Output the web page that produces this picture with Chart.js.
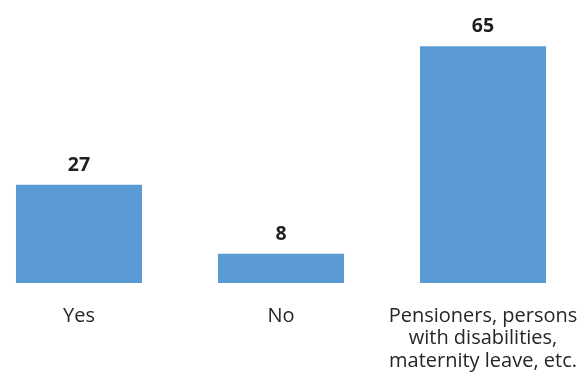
<!DOCTYPE html>
<html>
<head>
<meta charset="utf-8">
<script src="https://cdn.jsdelivr.net/npm/chart.js@4"></script>
<style>
  html, body { margin:0; padding:0; background:#fff; overflow:hidden; }
  #wrap { position:relative; width:588px; height:375px; overflow:hidden; }
  #chart { position:absolute; left:-22px; top:0; }
</style>
</head>
<body>
<div id="wrap"><canvas id="chart" width="606" height="375"></canvas></div>
<script>
const categories = ['Yes', 'No', ['Pensioners, persons', 'with disabilities,', 'maternity leave, etc.']];
const values     = [27, 8, 65];

const FONT = '"Open Sans", "Liberation Sans", sans-serif';

// value labels drawn above each bar
const barValues = {
    id: 'barValues',
    afterDatasetsDraw(chart) {
        const { ctx } = chart;
        const meta = chart.getDatasetMeta(0);
        ctx.save();
        ctx.font = `bold 19.5px ${FONT}`;
        ctx.fillStyle = '#1f1f1f';
        ctx.textAlign = 'center';
        ctx.textBaseline = 'alphabetic';
        meta.data.forEach((bar, i) => {
            ctx.fillText(values[i], bar.x, bar.y - 14);
        });
        ctx.restore();
    }
};

new Chart(document.getElementById('chart'), {
    type: 'bar',
    data: {
        labels: categories,
        datasets: [{
            data: values,
            backgroundColor: '#5b9bd5',
            categoryPercentage: 1,
            barPercentage: 0.624
        }]
    },
    options: {
        responsive: false,
        animation: false,
        layout: { padding: { top: 28, left: 0, right: 0, bottom: 0 } },
        plugins: { legend: { display: false }, tooltip: { enabled: false } },
        scales: {
            y: { display: false, min: 0, max: 70 },
            x: {
                grid: { display: false, drawTicks: false },
                border: { display: false },
                ticks: {
                    color: '#262626',
                    padding: 22,
                    maxRotation: 0,
                    autoSkip: false,
                    font: { family: FONT, size: 20, lineHeight: '22.5px' }
                },
                afterFit(scale) {
                    scale.height = 92;
                    scale.paddingLeft = 0;
                    scale.paddingRight = 0;
                }
            }
        }
    },
    plugins: [barValues]
});
</script>
</body>
</html>
